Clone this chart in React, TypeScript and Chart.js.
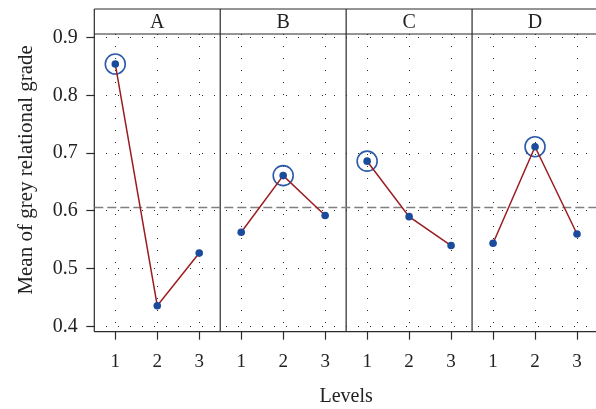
import React, { useEffect, useRef } from "react";
import { Chart, registerables } from "chart.js";

Chart.register(...registerables);

// ---- data ----
const factors = ["A", "B", "C", "D"];
const levels = ["1", "2", "3"];
const seriesA = [0.854, 0.436, 0.527];
const seriesB = [0.563, 0.661, 0.592];
const seriesC = [0.686, 0.59, 0.54];
const seriesD = [0.544, 0.711, 0.56];
const grandMean = 0.606;
const yTicks = [0.4, 0.5, 0.6, 0.7, 0.8, 0.9];
const yTickLabels = ["0.4", "0.5", "0.6", "0.7", "0.8", "0.9"];
const yMin = 0.391;
const yMax = 0.906;
const yTitle = "Mean of grey relational grade";
const xTitle = "Levels";

const allSeries = [seriesA, seriesB, seriesC, seriesD];
const FONT = "'Liberation Serif', 'Times New Roman', serif";
const LINE_RED = "#9b1d22";
const DOT_BLUE = "#1b4b9b";
const RING_BLUE = "#2c5aa8";
const FRAME = "#2b2b2b";
const STRIP_TOP = 9;

const xOf = (f: number, l: number) => f * levels.length + l + 0.5;

const framePlugin = {
  id: "panelFrame",
  beforeDatasetsDraw(chart: any) {
    const { ctx, chartArea, scales } = chart;
    const { left, right, top, bottom } = chartArea;
    const x = scales.x;
    ctx.save();
    ctx.strokeStyle = FRAME;
    ctx.lineWidth = 1.2;
    ctx.beginPath();
    ctx.moveTo(left, STRIP_TOP);
    ctx.lineTo(right, STRIP_TOP);
    ctx.moveTo(left, top);
    ctx.lineTo(right, top);
    ctx.moveTo(left, bottom);
    ctx.lineTo(right, bottom);
    ctx.moveTo(left, STRIP_TOP);
    ctx.lineTo(left, bottom);
    for (let f = 1; f < factors.length; f++) {
      const px = x.getPixelForValue(f * levels.length);
      ctx.moveTo(px, STRIP_TOP);
      ctx.lineTo(px, bottom);
    }
    ctx.stroke();
    ctx.fillStyle = "#222";
    ctx.font = `20px ${FONT}`;
    ctx.textAlign = "center";
    ctx.textBaseline = "middle";
    factors.forEach((name, i) => {
      const cx = x.getPixelForValue(i * levels.length + levels.length / 2);
      ctx.fillText(name, cx, (STRIP_TOP + top) / 2 + 1);
    });
    // y-axis title (placed slightly above the plot centre, as in the source)
    ctx.save();
    ctx.translate(26, (top + bottom) / 2 - 13);
    ctx.rotate(-Math.PI / 2);
    ctx.font = `21px ${FONT}`;
    ctx.fillText(yTitle, 0, 0);
    ctx.restore();
    ctx.restore();
  },
};

export default function App() {
  const ref = useRef<HTMLCanvasElement | null>(null);

  useEffect(() => {
    if (!ref.current) return;
    const lineSets = allSeries.map((vals, f) => ({
      label: factors[f],
      data: vals.map((v, l) => ({ x: xOf(f, l), y: v })),
      borderColor: LINE_RED,
      borderWidth: 1.5,
      pointRadius: 3.8,
      pointBackgroundColor: DOT_BLUE,
      pointBorderColor: DOT_BLUE,
      pointBorderWidth: 0,
      tension: 0,
      order: 1,
    }));
    const rings = {
      label: "max",
      data: allSeries.map((vals, f) => {
        const m = Math.max(...vals);
        return { x: xOf(f, vals.indexOf(m)), y: m };
      }),
      showLine: false,
      pointRadius: 10,
      pointBorderWidth: 1.6,
      pointBorderColor: RING_BLUE,
      pointBackgroundColor: "rgba(0,0,0,0)",
      order: 2,
    };
    const total = factors.length * levels.length;
    const meanLine = {
      label: "mean",
      data: [
        { x: 0, y: grandMean },
        { x: total, y: grandMean },
      ],
      borderColor: "#808080",
      borderWidth: 1.5,
      borderDash: [9, 4],
      pointRadius: 0,
      order: 3,
    };
    const xTickValues: number[] = [];
    factors.forEach((_, f) => levels.forEach((__, l) => xTickValues.push(xOf(f, l))));

    const chart = new Chart(ref.current, {
      type: "line",
      data: { datasets: [...lineSets, rings, meanLine] as any },
      plugins: [framePlugin],
      options: {
        animation: false,
        responsive: false,
        devicePixelRatio: 1,
        layout: { autoPadding: false, padding: { top: 34, left: 0, right: 0, bottom: 0 } },
        plugins: { legend: { display: false }, tooltip: { enabled: false } },
        scales: {
          x: {
            type: "linear",
            min: 0,
            max: total,
            afterBuildTicks: (s: any) => {
              s.ticks = xTickValues.map((v) => ({ value: v }));
            },
            afterFit: (s: any) => {
              s.height = 77.3;
              s.paddingLeft = 0;
              s.paddingRight = 0;
            },
            ticks: {
              autoSkip: false,
              maxRotation: 0,
              padding: 11,
              color: "#222",
              font: { family: FONT, size: 19 },
              callback: (_v: any, i: number) => levels[i % levels.length],
            },
            grid: {
              color: "#2a2a2a",
              lineWidth: 1,
              tickLength: 8,
              tickColor: FRAME,
              tickWidth: 1.2,
            },
            border: { display: false, dash: [1, 11] },
            title: {
              display: true,
              text: xTitle,
              color: "#222",
              font: { family: FONT, size: 20 },
              padding: { top: 0, bottom: 0 },
            },
          },
          y: {
            min: yMin,
            max: yMax,
            afterBuildTicks: (s: any) => {
              s.ticks = yTicks.map((v) => ({ value: v }));
            },
            afterFit: (s: any) => {
              s.width = 94.3;
              s.paddingTop = 0;
              s.paddingBottom = 0;
            },
            ticks: {
              padding: 8.6,
              color: "#222",
              font: { family: FONT, size: 20 },
              callback: (_v: any, i: number) => yTickLabels[i],
            },
            grid: {
              color: "#2a2a2a",
              lineWidth: 1,
              tickLength: 8,
              tickColor: FRAME,
              tickWidth: 1.2,
            },
            border: { display: false, dash: [1, 11] },
            title: { display: false },
          },
        },
      },
    });
    return () => chart.destroy();
  }, []);

  return (
    <div
      style={{
        position: "absolute",
        left: 0,
        top: 0,
        width: 596,
        height: 409,
        overflow: "hidden",
        background: "#fff",
      }}
    >
      <canvas ref={ref} width={598} height={409} style={{ display: "block" }} />
    </div>
  );
}
